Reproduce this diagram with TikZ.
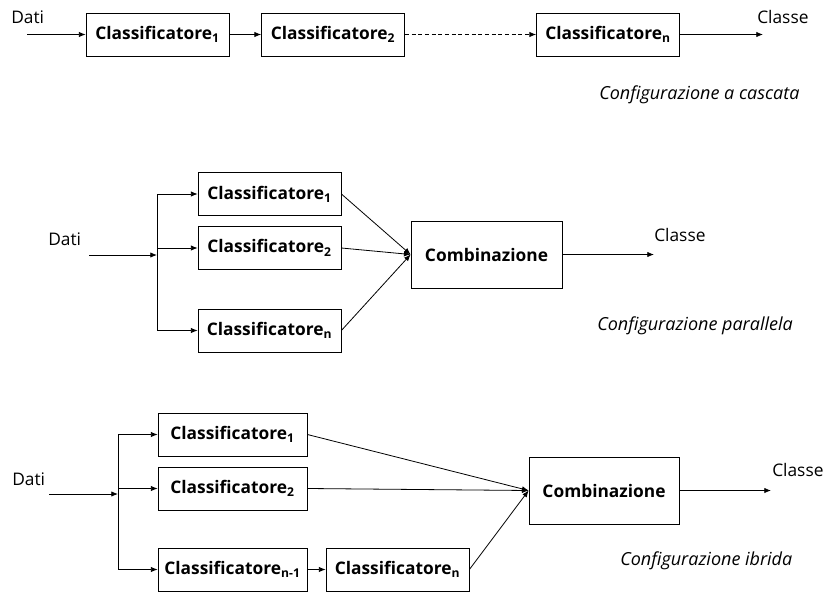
\documentclass[tikz,border=0pt]{standalone}
\usepackage{fontspec}
\setmainfont{Open Sans}
\usetikzlibrary{arrows.meta}
\begin{document}
\begin{tikzpicture}[x=0.75pt,y=-0.75pt,
  box/.style={draw, line width=0.6pt, inner sep=0pt, font=\fontsize{13}{15}\selectfont\bfseries,
    minimum width=107.25pt, minimum height=32.25pt},
  comb/.style={box, minimum width=113pt, minimum height=50.25pt},
  lbl/.style={inner sep=0pt, anchor=base west, font=\fontsize{13}{15}\selectfont},
  cfg/.style={lbl, font=\fontsize{13.5}{16}\selectfont\itshape},
  arr/.style={-{Latex[length=5pt,width=4pt]}, line width=0.6pt},
  ln/.style={line width=0.6pt}]
\useasboundingbox (0,0) rectangle (825,592);

% ---------- cascade ----------
\node[box] (c1) at (157.5,34.5) {Classificatore\textsubscript{1}};
\node[box] (c2) at (333,34.5) {Classificatore\textsubscript{2}};
\node[box] (cn) at (608,34.5) {Classificatore\textsubscript{n}};
\node[lbl] (dati1) at (11,24) {Dati};
\node[lbl] (classe1) at (757,24) {Classe};
\node[cfg] (cfg1) at (599,99) {Configurazione a cascata};
\coordinate (in1) at (27,34.5);
\coordinate (out1) at (763,34.5);
\draw[arr] (in1) -- (c1.west);
\draw[arr] (c1.east) -- (c2.west);
\draw[arr, dashed, dash pattern=on 3pt off 2pt] (c2.east) -- (cn.west);
\draw[arr] (cn.east) -- (out1);

% ---------- parallel ----------
\node[box] (p1) at (269.5,194) {Classificatore\textsubscript{1}};
\node[box] (p2) at (269.5,248) {Classificatore\textsubscript{2}};
\node[box] (pn) at (269.5,330.5) {Classificatore\textsubscript{n}};
\node[comb, minimum width=113.25pt] (pc) at (486.5,254.5) {Combinazione};
\node[lbl] (dati2) at (48,245) {Dati};
\node[lbl] (classe2) at (654,241) {Classe};
\node[cfg] (cfg2) at (597,330) {Configurazione parallela};
\coordinate (in2) at (89,255);
\coordinate (s2) at (157,255);
\coordinate (s2t) at (157,194);
\coordinate (s2m) at (157,248);
\coordinate (s2b) at (157,330.5);
\coordinate (out2) at (654,254.5);
\draw[arr] (in2) -- (s2);
\draw[ln] (s2t) -- (s2b);
\draw[arr] (s2t) -- (p1.west);
\draw[arr] (s2m) -- (p2.west);
\draw[arr] (s2b) -- (pn.west);
\draw[arr] (p1.east) -- (pc.west);
\draw[arr] (p2.east) -- (pc.west);
\draw[arr] (pn.east) -- (pc.west);
\draw[arr] (pc.east) -- (out2);

% ---------- hybrid ----------
\node[box, minimum width=111.75pt] (h1) at (232.5,434.5) {Classificatore\textsubscript{1}};
\node[box, minimum width=111.75pt] (h2) at (232.5,488.5) {Classificatore\textsubscript{2}};
\node[box, minimum width=111.75pt] (hn1) at (232.5,569.5) {Classificatore\textsubscript{n-1}};
\node[box] (hn) at (397.5,569.5) {Classificatore\textsubscript{n}};
\node[comb, minimum width=112.5pt] (hc) at (604,490.5) {Combinazione};
\node[lbl] (dati3) at (12,485) {Dati};
\node[lbl] (classe3) at (772,476) {Classe};
\node[cfg] (cfg3) at (620,565) {Configurazione ibrida};
\coordinate (in3) at (49,494);
\coordinate (s3) at (118,494);
\coordinate (s3t) at (118,434.5);
\coordinate (s3m) at (118,488.5);
\coordinate (s3b) at (118,569.5);
\coordinate (out3) at (771,490.5);
\draw[arr] (in3) -- (s3);
\draw[ln] (s3t) -- (s3b);
\draw[arr] (s3t) -- (h1.west);
\draw[arr] (s3m) -- (h2.west);
\draw[arr] (s3b) -- (hn1.west);
\draw[arr] (hn1.east) -- (hn.west);
\draw[arr] (h1.east) -- (hc.west);
\draw[arr] (h2.east) -- (hc.west);
\draw[arr] (hn.east) -- (hc.west);
\draw[arr] (hc.east) -- (out3);
\end{tikzpicture}
\end{document}
